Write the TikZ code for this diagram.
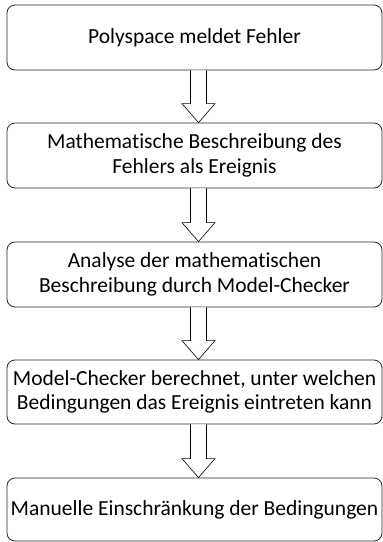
\documentclass[tikz,border=0pt]{standalone}
\usepackage{fontspec}
\setmainfont[Ligatures=NoCommon]{Carlito}
\usetikzlibrary{calc}

\begin{document}
\begin{tikzpicture}[
        font=\fontsize{21.5}{24.5}\selectfont,
        step_box/.style={
            draw=black!85,
            line width=0.8pt,
            rounded corners=8pt,
            minimum width=375pt,
            minimum height=65pt,
            align=center,
            inner sep=2pt
        },
        block_arrow/.style={
            draw=black,
            line width=0.6pt,
            fill=white
        }
    ]
        \def\boxx{194.5pt}
        \def\arrowshift{4pt}
        \def\shaftw{8pt}
        \def\headw{16.5pt}
        \def\headl{19pt}

        \useasboundingbox (0,0) rectangle (383pt,-542pt);

        \node[step_box] (b1) at (\boxx,-37.5pt) {Polyspace meldet Fehler};
        \node[step_box] (b2) at (\boxx,-155.5pt) {Mathematische Beschreibung des\\Fehlers als Ereignis};
        \node[step_box] (b3) at (\boxx,-274.5pt) {Analyse der mathematischen\\Beschreibung durch Model-Checker};
        \node[step_box, minimum height=64pt] (b4) at (\boxx,-392pt) {Model-Checker berechnet, unter welchen\\Bedingungen das Ereignis eintreten kann};
        \node[step_box, minimum height=63pt] (b5) at (\boxx,-509.5pt) {Manuelle Einschränkung der Bedingungen};

        % hollow arrows between the steps
        \foreach \from/\to in {b1/b2, b2/b3, b3/b4, b4/b5}{
            \draw[block_arrow]
                ($(\from.south)+(\arrowshift-\shaftw,0)$)
                -- ($(\to.north)+(\arrowshift-\shaftw,\headl)$)
                -- ($(\to.north)+(\arrowshift-\headw,\headl)$)
                -- ($(\to.north)+(\arrowshift,0)$)
                -- ($(\to.north)+(\arrowshift+\headw,\headl)$)
                -- ($(\to.north)+(\arrowshift+\shaftw,\headl)$)
                -- ($(\from.south)+(\arrowshift+\shaftw,0)$);
        }
    \end{tikzpicture}
\end{document}
